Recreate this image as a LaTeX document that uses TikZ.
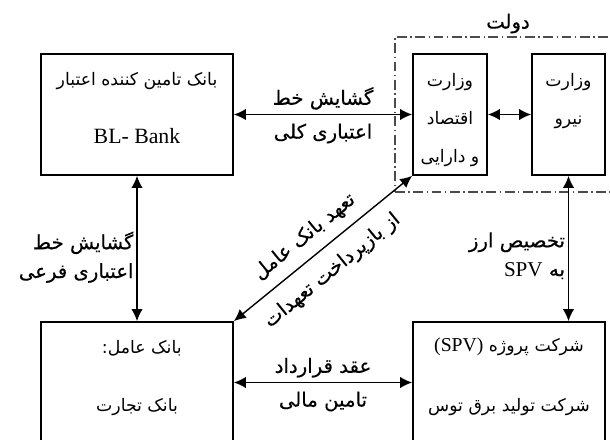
\documentclass[tikz,border=0pt]{standalone}
\usepackage{fontspec}
\setmainfont{Liberation Serif}
\newfontfamily\farsi[Script=Arabic]{DejaVu Sans}
\newfontfamily\farsibold[Script=Arabic, FakeBold=0.3]{DejaVu Sans}
\TeXXeTstate=1
\usetikzlibrary{arrows.meta,calc}
\newcommand{\rl}[1]{\beginR #1\endR}
\newcommand{\lr}[1]{\beginL #1\endL}
\tikzstyle{block} = [rectangle, draw, line width=1.2pt,
    minimum width=4.8cm, minimum height=3.025cm, inner sep=0pt]
\tikzstyle{ministry} = [block, minimum width=1.85cm]
\tikzstyle{govframe} = [rectangle, draw=gray!60!black, line width=0.8pt,
    dash pattern=on 7pt off 2.5pt on 1pt off 2.5pt,
    minimum width=5.75cm, minimum height=3.875cm]
\tikzstyle{boxtext} = [font=\farsi\fontsize{12.3}{27}\selectfont, align=center, inner sep=0pt]
\tikzstyle{edgetext} = [font=\farsibold\fontsize{14}{20.5}\selectfont, inner sep=2pt]
\tikzstyle{line} = [draw, line width=1pt,
    {Latex[length=8.5pt,width=8pt]}-{Latex[length=8.5pt,width=8pt]}]

\begin{document}
\begin{tikzpicture}
    \useasboundingbox (0,0) rectangle (15.25,-10.975);
    \clip (0,0) rectangle (15.25,-10.975);
    % Place nodes
    \node [block] (BLBank) at (3.425,-2.8625) {};
    \node [ministry, right of=BLBank, node distance=7.825cm] (Eqtesad) {};
    \node [ministry, right of=Eqtesad, node distance=2.9625cm, minimum width=1.825cm] (Niroo) {};
    \node [block, below of=BLBank, node distance=6.7cm] (Tejarat) {};
    \node [block, right of=Tejarat, node distance=9.3cm] (SPV) {};
    \node [govframe] (Dolat) at (12.75,-2.8625) {};
    \node [edgetext, anchor=south] (DolatT) at ($(Dolat.north)+(-0.05,0)$) {\rl{دولت}};
    % Texts in boxes
    \node [boxtext] (BLBankT) at ($(BLBank.north)+(0,-0.7)$) {\rl{بانک تامین کننده اعتبار}};
    \node [font=\fontsize{15.5}{18}\selectfont] (BLBankL) at ($(BLBank.north)+(0,-2.075)$) {BL- Bank};
    \node [boxtext] (EqtesadT) at ($(Eqtesad)+(0,-0.14)$) {\rl{وزارت}\\\rl{اقتصاد}\\\rl{و دارایی}};
    \node [boxtext] (NirooT) at ($(Niroo)+(0,0.34)$) {\rl{وزارت}\\\rl{نیرو}};
    \node [boxtext] (TejaratT) at ($(Tejarat.north)+(0.12,-0.68)$) {\rl{بانک عامل:}};
    \node [boxtext] (TejaratL) at ($(Tejarat.north)+(0,-2.15)$) {\rl{بانک تجارت}};
    \node [boxtext] (SPVT) at ($(SPV.north)+(0,-0.65)$) {\rl{شرکت پروژه \lr{\rmfamily\fontsize{14}{16}\selectfont (SPV)}}};
    \node [boxtext] (SPVL) at ($(SPV.north)+(0,-2.15)$) {\rl{شرکت تولید برق توس}};
    % Draw edges
    \path [line] (BLBank) -- node [edgetext, above=1pt] (KoliT) {\rl{گشایش خط}}
        node [edgetext, below=4pt] (KoliB) {\rl{اعتباری کلی}} (Eqtesad);
    \path [line] (Eqtesad) -- (Niroo);
    \path [line] (BLBank) -- node [edgetext, left, align=right, pos=0.56] (Farei)
        {\rl{گشایش خط}\\\rl{اعتباری فرعی}} (Tejarat);
    \path [line] (Niroo) -- node [edgetext, left, align=right, pos=0.55] (Arz)
        {\rl{تخصیص ارز}\\\rl{به \lr{\rmfamily\fontsize{15}{16}\selectfont SPV}}} (Niroo |- SPV.north);
    \path [line] (Tejarat) -- node [edgetext, above=1pt] (AqdT) {\rl{عقد قرارداد}}
        node [edgetext, below=4pt] (AqdB) {\rl{تامین مالی}} (SPV);
    \path [line] (Tejarat.north east) -- node [edgetext, sloped, above=5pt, pos=0.47] (TaahodT) {\rl{تعهد بانک عامل}}
        node [edgetext, sloped, below=7pt, pos=0.47] (TaahodB) {\rl{از بازپرداخت تعهدات}} (Eqtesad.south west);
\end{tikzpicture}
\end{document}
